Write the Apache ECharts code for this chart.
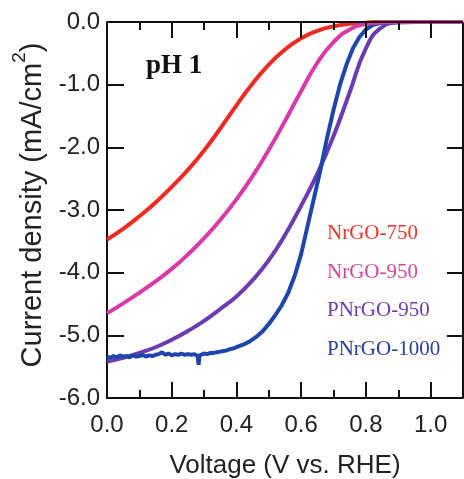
<!DOCTYPE html>
<html>
<head>
<meta charset="utf-8">
<script src="https://cdn.jsdelivr.net/npm/echarts@6/dist/echarts.min.js"></script>
<style>
  html, body { margin: 0; padding: 0; background: #fff; }
  #chart { width: 464px; height: 479px; }
</style>
</head>
<body>
<div id="chart"></div>
<script>
// Polarisation curves (current density vs. potential), pH 1
const seriesNames = ['NrGO-750', 'NrGO-950', 'PNrGO-950', 'PNrGO-1000'];

const nrgo750V = [0, 0.05, 0.10, 0.15, 0.20, 0.25, 0.30, 0.35, 0.40, 0.45, 0.50, 0.55, 0.60, 0.65, 0.70, 0.75, 0.80, 0.85, 1.1];
const nrgo750J = [-3.47, -3.30, -3.10, -2.88, -2.63, -2.36, -2.05, -1.70, -1.33, -0.98, -0.68, -0.44, -0.26, -0.14, -0.07, -0.03, -0.01, 0, 0];

const nrgo950V = [0, 0.05, 0.10, 0.15, 0.20, 0.25, 0.30, 0.35, 0.40, 0.45, 0.50, 0.55, 0.60, 0.65, 0.70, 0.75, 0.80, 0.85, 0.90, 1.1];
const nrgo950J = [-4.65, -4.49, -4.32, -4.14, -3.94, -3.71, -3.45, -3.16, -2.83, -2.46, -2.04, -1.58, -1.10, -0.65, -0.32, -0.12, -0.03, -0.005, 0, 0];

const pnrgo950V = [0, 0.05, 0.10, 0.15, 0.20, 0.25, 0.30, 0.35, 0.40, 0.45, 0.50, 0.55, 0.60, 0.65, 0.70, 0.75, 0.80, 0.85, 0.90, 0.95, 1.1];
const pnrgo950J = [-5.42, -5.36, -5.28, -5.19, -5.07, -4.93, -4.77, -4.58, -4.38, -4.12, -3.80, -3.40, -2.93, -2.42, -1.82, -1.12, -0.42, -0.08, -0.01, 0, 0];

const pnrgo1000V = [0, 0.01, 0.02, 0.03, 0.04, 0.05, 0.06, 0.07, 0.08, 0.09, 0.10, 0.11, 0.12, 0.13, 0.14, 0.15, 0.16, 0.17, 0.18, 0.19, 0.20,
  0.21, 0.22, 0.23, 0.24, 0.25, 0.26, 0.27, 0.28, 0.283, 0.286, 0.29, 0.30, 0.31, 0.32, 0.33, 0.34, 0.35, 0.36, 0.37, 0.38, 0.39, 0.40,
  0.42, 0.44, 0.46, 0.48, 0.50, 0.52, 0.54, 0.56, 0.58, 0.60, 0.62, 0.64, 0.66, 0.68, 0.70, 0.72, 0.74, 0.76, 0.78, 0.80, 0.82, 0.84, 0.86, 0.88, 1.1];
const pnrgo1000J = [-5.34, -5.36, -5.33, -5.35, -5.32, -5.34, -5.33, -5.35, -5.32, -5.34, -5.33, -5.31, -5.34, -5.32, -5.33, -5.31, -5.30, -5.27, -5.31, -5.29, -5.32,
  -5.30, -5.31, -5.29, -5.31, -5.30, -5.31, -5.30, -5.33, -5.47, -5.32, -5.30, -5.29, -5.30, -5.28, -5.28, -5.27, -5.26, -5.25, -5.24, -5.22, -5.21, -5.19,
  -5.15, -5.10, -5.03, -4.94, -4.82, -4.68, -4.52, -4.32, -4.05, -3.70, -3.25, -2.80, -2.35, -1.85, -1.40, -1.00, -0.68, -0.42, -0.24, -0.12, -0.05, -0.02, -0.005, 0, 0];

// Axis ticks: labelled majors and the unlabelled minor steps between them
const xTicks = [0, 0.2, 0.4, 0.6, 0.8, 1.0];
const xMinorTicks = [0.1, 0.3, 0.5, 0.7, 0.9];
const yTicks = [-6, -5, -4, -3, -2, -1, 0];

const lineColors = ['#ee2a22', '#d93aa8', '#6a3cb0', '#1f45aa'];
const textColors = ['#e8372f', '#d5469e', '#6d40a8', '#2a409b'];

const zip = (xs, ys) => xs.map((x, i) => [x, ys[i]]);
const isTick = (list, v) => list.some(t => Math.abs(t - v) < 1e-6);

const ink = '#111';
const sans = 'Liberation Sans';
const serif = 'Liberation Serif';
const X_MIN = 0, X_MAX = 1.1, Y_MIN = -6, Y_MAX = 0;

// Plot box (grid) in pixels; used to express tick lengths in axis units
const W = 464, H = 479;
const gridLeft = 107, gridTop = 22, gridRight = 1, gridBottom = 81;
const pxPerX = (W - gridLeft - gridRight) / (X_MAX - X_MIN);
const pxPerY = (H - gridTop - gridBottom) / (Y_MAX - Y_MIN);

// Frame edges and inward ticks as mark lines in data coordinates
const seg = (a, b) => [{ coord: a }, { coord: b }];
const frameLines = [
  seg([X_MIN, Y_MAX], [X_MAX, Y_MAX]),
  seg([X_MAX, Y_MAX], [X_MAX, Y_MIN])
];
xTicks.concat(xMinorTicks).filter(v => v > X_MIN).forEach(v => {
  const dy = (isTick(xTicks, v) ? 16 : 8) / pxPerY;
  frameLines.push(seg([v, Y_MIN], [v, Y_MIN + dy]), seg([v, Y_MAX], [v, Y_MAX - dy]));
});
yTicks.filter(v => v > Y_MIN && v < Y_MAX).forEach(v => {
  frameLines.push(seg([X_MIN, v], [X_MIN + 17 / pxPerX, v]), seg([X_MAX, v], [X_MAX - 16 / pxPerX, v]));
});

const curves = [
  { name: seriesNames[2], data: zip(pnrgo950V, pnrgo950J), color: lineColors[2], smooth: 0.5 },
  { name: seriesNames[3], data: zip(pnrgo1000V, pnrgo1000J), color: lineColors[3], smooth: false },
  { name: seriesNames[0], data: zip(nrgo750V, nrgo750J), color: lineColors[0], smooth: 0.5 },
  { name: seriesNames[1], data: zip(nrgo950V, nrgo950J), color: lineColors[1], smooth: 0.5 }
].map(s => ({
  type: 'line', name: s.name, data: s.data, xAxisIndex: 0, yAxisIndex: 0,
  showSymbol: false, symbol: 'none', clip: false, z: 2,
  smooth: s.smooth,
  color: s.color,
  lineStyle: { color: s.color, width: 4 },
  emphasis: { disabled: true }
}));

curves[0].markLine = {
  silent: true,
  symbol: ['none', 'none'],
  label: { show: false },
  lineStyle: { color: ink, width: 2, type: 'solid', opacity: 1 },
  emphasis: { disabled: true },
  data: frameLines
};

const option = {
  animation: false,
  backgroundColor: '#fff',
  title: {
    text: 'pH 1', left: 146, top: 53, padding: 0,
    textStyle: { fontFamily: serif, fontWeight: 'bold', fontSize: 27, color: ink }
  },
  legend: {
    orient: 'vertical', left: 322, top: 223, padding: 0,
    icon: 'none', itemWidth: 0, itemHeight: 14, itemGap: 17.5,
    selectedMode: false,
    textStyle: { fontFamily: serif, fontSize: 21 },
    data: seriesNames.map((n, i) => ({ name: n, textStyle: { color: textColors[i] } }))
  },
  grid: {
    show: false,
    left: gridLeft, top: gridTop, right: gridRight, bottom: gridBottom,
    containLabel: false, outerBoundsMode: 'none'
  },
  xAxis: {
    type: 'value', position: 'bottom', min: X_MIN, max: X_MAX, interval: 0.2,
    axisLine: { show: true, onZero: false, lineStyle: { color: ink, width: 2 } },
    axisTick: { show: false },
    axisLabel: {
      show: true, margin: 15, fontFamily: sans, fontSize: 24, color: '#222',
      formatter: v => isTick(xTicks, v) ? v.toFixed(1) : ''
    },
    splitLine: { show: false },
    name: 'Voltage (V vs. RHE)', nameLocation: 'middle', nameGap: 55,
    nameTextStyle: { fontFamily: sans, fontSize: 26, color: '#222' }
  },
  yAxis: {
    type: 'value', position: 'left', min: Y_MIN, max: Y_MAX, interval: 1,
    axisLine: { show: true, onZero: false, lineStyle: { color: ink, width: 2 } },
    axisTick: { show: false },
    axisLabel: {
      margin: 7, fontFamily: sans, fontSize: 24, color: '#222',
      formatter: v => isTick(yTicks, v) ? v.toFixed(1) : ''
    },
    splitLine: { show: false },
    name: '{a|Current density (mA/cm}{s|2}{a|)}',
    nameLocation: 'middle', nameRotate: 90, nameGap: 58,
    nameTextStyle: {
      padding: [0, 0, 0, 10],
      rich: {
        a: { fontFamily: sans, fontSize: 29, color: '#222', lineHeight: 37, verticalAlign: 'bottom' },
        s: { fontFamily: sans, fontSize: 19, color: '#222', lineHeight: 19, verticalAlign: 'top' }
      }
    }
  },
  series: curves
};

const chart = echarts.init(document.getElementById('chart'), null, { renderer: 'canvas' });
chart.setOption(option);
</script>
</body>
</html>
